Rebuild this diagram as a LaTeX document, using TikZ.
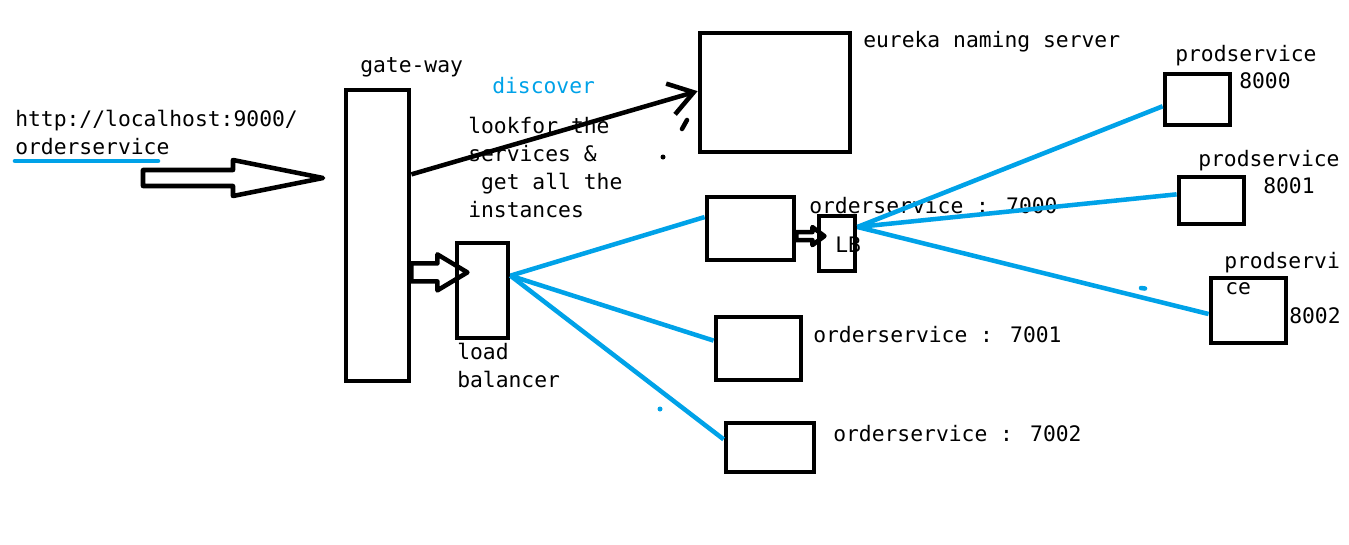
\documentclass[tikz,border=0pt]{standalone}
\usepackage{fontspec}
\setmainfont{DejaVu Sans Mono}
\usetikzlibrary{arrows.meta}
\definecolor{paintblue}{HTML}{00A2E8}
\def\bigarrow{-- ++(0,-8) -- ++(90,0) -- ++(0,-10) -- ++(90,18) -- ++(-90,18) -- ++(0,-10) -- ++(-90,0) -- cycle}
\def\midarrow{-- ++(0,-9) -- ++(26,0) -- ++(0,-9) -- ++(30,18) -- ++(-30,18) -- ++(0,-9) -- ++(-26,0) -- cycle}
\def\tinyarrow{-- ++(0,-4) -- ++(16,0) -- ++(0,-5) -- ++(12,9) -- ++(-12,9) -- ++(0,-5) -- ++(-16,0) -- cycle}
\def\dblue{\draw[paintblue,line width=3.4pt]}
\def\dblack{\draw[line width=3.4pt,line join=round]}
\tikzset{
  box/.style={draw,line width=3.6pt,inner sep=0pt},
  sized/.style 2 args={minimum width=#1*0.75pt,minimum height=#2*0.75pt},
  lbl/.style={anchor=base west,inner sep=0pt,align=left,font=\fontsize{16}{21}\selectfont},
}

\begin{document}
\begin{tikzpicture}[x=0.75pt,y=-0.75pt]
  \useasboundingbox (0,0) rectangle (1349,544);
  % boxes
  \node[box,sized={63}{291}] (gw) at (377.5,235.5) {};
  \node[box,sized={51}{95}]  (lb) at (482.5,290.5) {};
  \node[box,sized={150}{119}] (eureka) at (775,92.5) {};
  \node[box,sized={87}{63}] (os0) at (750.5,228.5) {};
  \node[box,sized={36}{55}] (lb2) at (837,243.5) {};
  \node[box,sized={85}{63}] (os1) at (758.5,348.5) {};
  \node[box,sized={88}{49}] (os2) at (770,447.5) {};
  \node[box,sized={65}{51}] (p0) at (1197.5,99.5) {};
  \node[box,sized={65}{47}] (p1) at (1211.5,200.5) {};
  \node[box,sized={75}{65}] (p2) at (1248.5,310.5) {};
  % labels (base = last line)
  \node[lbl] (url) at (15,154) {http://localhost:9000/\\orderservice};
  \node[lbl] (gwlbl) at (360,72) {gate-way};
  \node[lbl,text=paintblue] (disc) at (492,93) {discover};
  \node[lbl] (look) at (468,217) {lookfor the\\services \&\\\phantom{g}get all the\\instances};
  \node[lbl] (lblbl) at (457,387) {load\\balancer};
  \node[lbl] (eulbl) at (863,47) {eureka naming server};
  \node[lbl] (os0lbl) at (809,213) {orderservice : 7000};
  \node[lbl] (lb2lbl) at (835,252) {LB};
  \node[lbl] (os1lbl) at (813,342) {orderservice : 7001};
  \node[lbl] (os2lbl) at (833,441) {orderservice : 7002};
  \node[lbl] (p0lbl) at (1175,61) {prodservice};
  \node[lbl] (p0port) at (1239,88) {8000};
  \node[lbl] (p1lbl) at (1198,166) {prodservice};
  \node[lbl] (p1port) at (1263,193) {8001};
  \node[lbl] (p2lbl) at (1224,268) {prodservi};
  \node[lbl] (p2rest) at (1225,294) {ce};
  \node[lbl] (p2port) at (1289,323) {8002};
  % request into the gate-way
  \coordinate (req) at (143,178);
  \dblue[line cap=round] (15,161) -- (158,161);
  \dblack (req) \bigarrow;
  \dblack (gw.east |- lb.147) \midarrow;
  \dblack (os0.east |- lb2.160) \tinyarrow;
  % discovery
  \draw[line width=3.4pt,-{Straight Barb[length=18pt,width=24pt]}] (gw.61) -- (eureka.179);
  \draw[line width=3.4pt,line cap=round] (682,129) -- (687,120);
  \fill (663,157) circle (2.5);
  % load balancing
  \dblue (lb.28) -- (os0.166);
  \dblue (lb.28) -- (os1.170);
  \dblue (lb.28) -- (os2.170);
  \dblue (lb2.39) -- (p0.191);
  \dblue (lb2.39) -- (p1.170);
  \dblue (lb2.39) -- (p2.185);
  \dblue[line cap=round] (1141,288) -- (1145,288.5);
  \fill[paintblue] (660,409) circle (2.5);
\end{tikzpicture}
\end{document}
